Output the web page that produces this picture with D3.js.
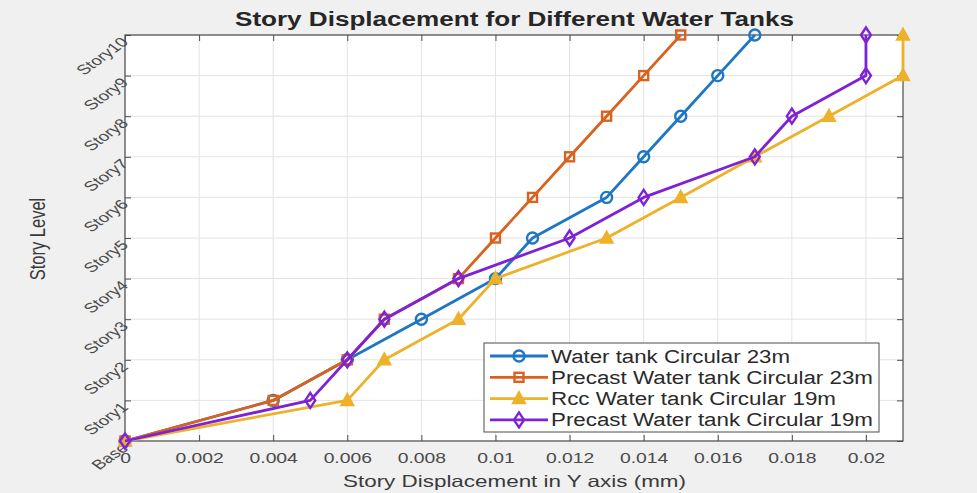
<!DOCTYPE html>
<html>
<head>
<meta charset="utf-8">
<script src="https://cdn.jsdelivr.net/npm/d3@7"></script>
<style>
  html, body { margin: 0; padding: 0; background: #f0f0f0; }
  svg { display: block; font-family: "Liberation Sans", Arial, sans-serif; }
</style>
</head>
<body>
<svg id="chart" width="977" height="493"></svg>
<script>
// Story levels (bottom to top)
const stories = ["Base", "Story1", "Story2", "Story3", "Story4", "Story5",
                 "Story6", "Story7", "Story8", "Story9", "Story10"];

// Displacement in Y (mm) for each story, per tank type
const waterTank23 = [0, 0.004, 0.006, 0.008, 0.010, 0.011, 0.013, 0.014, 0.015, 0.016, 0.017];
const precast23   = [0, 0.004, 0.006, 0.007, 0.009, 0.010, 0.011, 0.012, 0.013, 0.014, 0.015];
const rcc19       = [0, 0.006, 0.007, 0.009, 0.010, 0.013, 0.015, 0.017, 0.019, 0.021, 0.021];
const precast19   = [0, 0.005, 0.006, 0.007, 0.009, 0.012, 0.014, 0.017, 0.018, 0.020, 0.020];

const seriesNames = ["Water tank Circular 23m", "Precast Water tank Circular 23m",
                     "Rcc Water tank Circular 19m", "Precast Water tank Circular 19m"];
const seriesColors = ["#1f77c4", "#d9621f", "#eeb12a", "#7f22d6"];
const seriesMarkers = ["circle", "square", "triangle", "diamond"];

const xTicks = [0, 0.002, 0.004, 0.006, 0.008, 0.01, 0.012, 0.014, 0.016, 0.018, 0.02];
const xTickLabels = ["0", "0.002", "0.004", "0.006", "0.008", "0.01", "0.012", "0.014", "0.016", "0.018", "0.02"];

const seriesValues = [waterTank23, precast23, rcc19, precast19];

// the whole figure is drawn with wide, horizontally stretched lettering
const stretch = 1.38;

const svg = d3.select("#chart");
const margin = { left: 125, right: 74, top: 35, bottom: 52 };
const W = 977, H = 493;
const x0 = margin.left, x1 = W - margin.right, y0 = H - margin.bottom, y1 = margin.top;

const x = d3.scaleLinear().domain([0, 0.021]).range([x0, x1]);
const y = d3.scalePoint().domain(stories).range([y0, y1]);

// plot background
svg.append("rect").attr("x", x0).attr("y", y1).attr("width", x1 - x0).attr("height", y0 - y1)
  .attr("fill", "#ffffff");

// grid
const grid = svg.append("g").attr("stroke", "#e3e3e3").attr("stroke-width", 1);
xTicks.forEach(t => grid.append("line").attr("x1", x(t)).attr("x2", x(t)).attr("y1", y1).attr("y2", y0));
stories.forEach(s => grid.append("line").attr("x1", x0).attr("x2", x1).attr("y1", y(s)).attr("y2", y(s)));

// axes (ticks inside, box on)
const axisColor = "#4d4d4d";
const xAxis = d3.axisBottom(x).tickValues(xTicks).tickFormat((d, i) => xTickLabels[i]).tickSize(-6).tickPadding(12);
const gx = svg.append("g").attr("transform", `translate(0,${y0})`).call(xAxis);
gx.select(".domain").remove();
gx.selectAll(".tick line").attr("stroke", axisColor);
gx.selectAll(".tick text").attr("fill", "#4a4a4a").attr("font-size", 14)
  .attr("transform", `scale(${stretch},1)`);

const gxTop = svg.append("g").attr("transform", `translate(0,${y1})`)
  .call(d3.axisTop(x).tickValues(xTicks).tickSize(-6).tickFormat(""));
gxTop.select(".domain").remove();
gxTop.selectAll(".tick line").attr("stroke", axisColor);

const yAxis = d3.axisLeft(y).tickSize(-6).tickPadding(4);
const gy = svg.append("g").attr("transform", `translate(${x0},0)`).call(yAxis);
gy.select(".domain").remove();
gy.selectAll(".tick line").attr("stroke", axisColor);
gy.selectAll(".tick text")
  .attr("fill", "#4a4a4a").attr("font-size", 13.5)
  .attr("x", -3).attr("dy", "0.55em")
  .attr("text-anchor", "end")
  .attr("transform", `scale(${stretch},1) rotate(-45)`);

const gyR = svg.append("g").attr("transform", `translate(${x1},0)`)
  .call(d3.axisRight(y).tickSize(-6).tickFormat(""));
gyR.select(".domain").remove();
gyR.selectAll(".tick line").attr("stroke", axisColor);

svg.append("rect").attr("x", x0).attr("y", y1).attr("width", x1 - x0).attr("height", y0 - y1)
  .attr("fill", "none").attr("stroke", axisColor).attr("stroke-width", 1.2);

// titles
svg.append("text").attr("x", 514.5).attr("y", 26).attr("text-anchor", "middle")
  .attr("font-size", 19.5).attr("font-weight", "bold").attr("fill", "#262626")
  .attr("textLength", 559).attr("lengthAdjust", "spacingAndGlyphs")
  .text("Story Displacement for Different Water Tanks");
svg.append("text").attr("x", 514.5).attr("y", 487).attr("text-anchor", "middle")
  .attr("font-size", 16.5).attr("fill", "#3a3a3a")
  .attr("textLength", 343).attr("lengthAdjust", "spacingAndGlyphs")
  .text("Story Displacement in Y axis (mm)");
svg.append("text").attr("transform", `translate(45,239) scale(${stretch},1) rotate(-90)`)
  .attr("text-anchor", "middle").attr("font-size", 16.5).attr("fill", "#3a3a3a")
  .text("Story Level");

// markers
function drawMarker(g, type, cx, cy, color) {
  if (type === "circle") {
    g.append("circle").attr("cx", cx).attr("cy", cy).attr("r", 5.5)
      .attr("fill", "none").attr("stroke", color).attr("stroke-width", 2.4);
  } else if (type === "square") {
    g.append("rect").attr("x", cx - 4.5).attr("y", cy - 4.5).attr("width", 9).attr("height", 9)
      .attr("fill", "none").attr("stroke", color).attr("stroke-width", 2.4);
  } else if (type === "triangle") {
    g.append("path").attr("d", `M${cx},${cy - 7}L${cx + 6.5},${cy + 5}L${cx - 6.5},${cy + 5}Z`)
      .attr("fill", color).attr("stroke", color).attr("stroke-width", 1.5);
  } else {
    g.append("path").attr("d", `M${cx},${cy - 7.5}L${cx + 5},${cy}L${cx},${cy + 7.5}L${cx - 5},${cy}Z`)
      .attr("fill", "none").attr("stroke", color).attr("stroke-width", 2.4);
  }
}

const line = d3.line().x(d => x(d[0])).y(d => y(d[1]));
seriesValues.forEach((vals, i) => {
  const g = svg.append("g");
  const pts = vals.map((v, k) => [v, stories[k]]);
  g.append("path").attr("d", line(pts)).attr("fill", "none")
    .attr("stroke", seriesColors[i]).attr("stroke-width", 2.8).attr("stroke-linejoin", "round");
  pts.forEach(p => drawMarker(g, seriesMarkers[i], x(p[0]), y(p[1]), seriesColors[i]));
});

// legend
const legendTextWidths = [239, 322, 285, 322];
const lg = svg.append("g");
const lx = 484, ly = 343, lw = 395, lh = 89;
lg.append("rect").attr("x", lx).attr("y", ly).attr("width", lw).attr("height", lh)
  .attr("fill", "#ffffff").attr("stroke", "#4d4d4d").attr("stroke-width", 1);
seriesNames.forEach((name, i) => {
  const cy = ly + 13 + i * 21.3;
  lg.append("line").attr("x1", lx + 6).attr("x2", lx + 64).attr("y1", cy).attr("y2", cy)
    .attr("stroke", seriesColors[i]).attr("stroke-width", 2.8);
  drawMarker(lg, seriesMarkers[i], lx + 35, cy, seriesColors[i]);
  lg.append("text").attr("x", lx + 67).attr("y", cy + 6.5).attr("font-size", 18)
    .attr("fill", "#2a2a2a")
    .attr("textLength", legendTextWidths[i]).attr("lengthAdjust", "spacingAndGlyphs")
    .text(name);
});
</script>
</body>
</html>
